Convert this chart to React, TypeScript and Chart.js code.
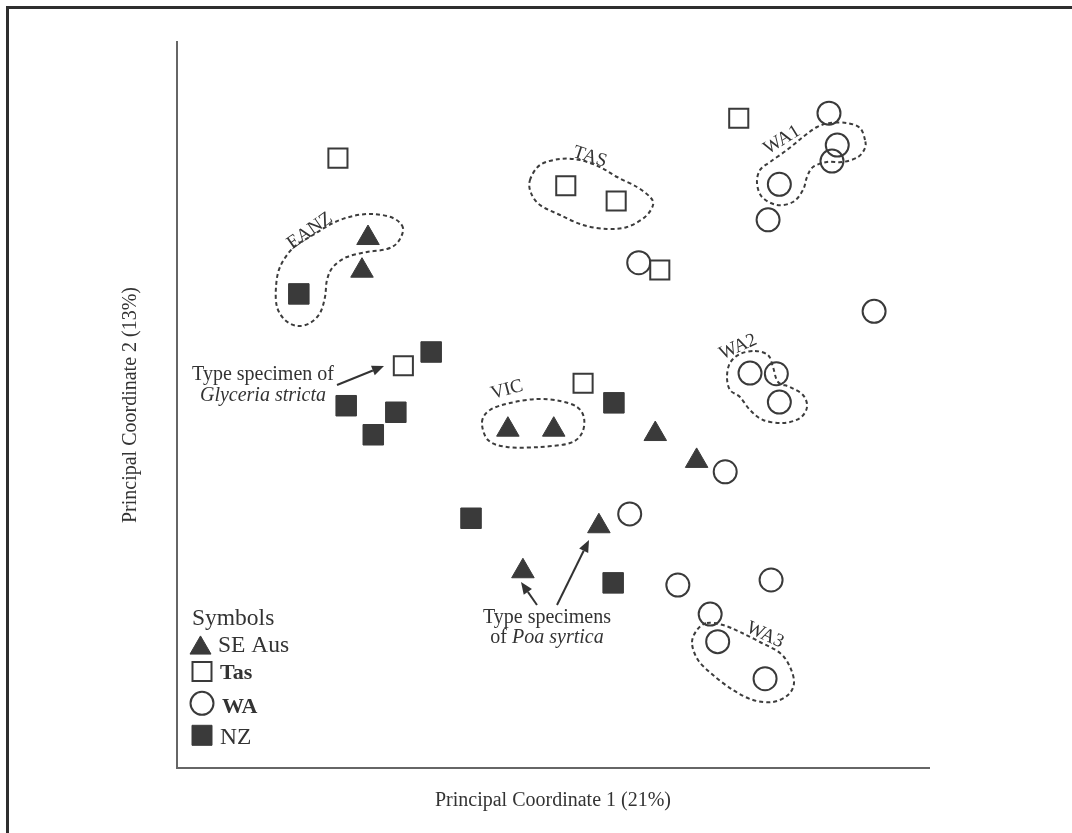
import React, { useEffect, useRef } from "react";
import { Chart, registerables } from "chart.js";

Chart.register(...registerables);

// ---------------- data: PCoA scores (arbitrary units) ----------------
const seriesNames = ["SE Aus", "Tas", "WA", "NZ"];

const seAusX = [-0.246, -0.254, -0.060, 0.001, 0.136, 0.191, 0.061, -0.040];
const seAusY = [0.230, 0.185, -0.034, -0.034, -0.040, -0.077, -0.167, -0.229];

const tasX = [-0.286, 0.017, 0.084, 0.142, 0.247, -0.199, 0.040];
const tasY = [0.340, 0.302, 0.281, 0.186, 0.395, 0.054, 0.030];

const waX = [0.367, 0.378, 0.371, 0.301, 0.286, 0.114, 0.427, 0.262, 0.297, 0.301, 0.229, 0.102, 0.166, 0.290, 0.209, 0.219, 0.282];
const waY = [0.402, 0.358, 0.336, 0.304, 0.255, 0.196, 0.129, 0.044, 0.043, 0.004, -0.092, -0.150, -0.248, -0.241, -0.288, -0.326, -0.377];

const nzX = [-0.338, -0.162, -0.275, -0.209, -0.239, 0.081, -0.109, 0.080];
const nzY = [0.153, 0.073, -0.001, -0.010, -0.041, 0.003, -0.156, -0.245];

const xTitle = "Principal Coordinate 1 (21%)";
const yTitle = "Principal Coordinate 2 (13%)";
const legendTitle = "Symbols";

// ---------------- annotation geometry (converted into data space) ----------------
const toData = (px: number, py: number): [number, number] => [(px - 553) / 752, (405 - py) / 726];
const conv = (a: number[][]) => a.map(([p, q]) => toData(p, q));

const groups = [
  {
    name: "EANZ", angle: -35, label: toData(310, 231),
    path: conv([[403, 228], [393, 218], [373, 214], [353, 216], [333, 223], [313, 235], [293, 248], [280, 267], [276, 287], [277, 307], [285, 320], [297, 326], [310, 323], [320, 313], [325, 297], [327, 280], [333, 267], [347, 257], [367, 252], [387, 249], [398, 242]]),
  },
  {
    name: "TAS", angle: 18, label: toData(590, 157),
    path: conv([[530, 180], [540, 165], [560, 159], [580, 160], [600, 167], [617, 177], [637, 187], [650, 197], [653, 205], [645, 217], [627, 227], [607, 229], [583, 225], [560, 215], [540, 205], [531, 193]]),
  },
  {
    name: "WA1", angle: -32, label: toData(782, 140),
    path: conv([[865, 140], [860, 128], [847, 123], [830, 123], [817, 127], [803, 137], [787, 150], [770, 162], [760, 170], [757, 183], [762, 197], [777, 205], [793, 202], [803, 190], [807, 177], [813, 167], [827, 162], [843, 162], [858, 157], [865, 148]]),
  },
  {
    name: "WA2", angle: -24, label: toData(738, 347),
    path: conv([[755, 351], [768, 355], [773, 367], [778, 382], [790, 387], [803, 395], [807, 407], [800, 418], [783, 423], [763, 420], [750, 410], [740, 397], [730, 390], [727, 377], [730, 363], [740, 354]]),
  },
  {
    name: "VIC", angle: -15, label: toData(507, 390),
    path: conv([[482, 422], [490, 410], [510, 403], [537, 399], [560, 401], [577, 407], [584, 418], [582, 433], [570, 443], [540, 447], [507, 447], [488, 440]]),
  },
  {
    name: "WA3", angle: 25, label: toData(765, 635),
    path: conv([[707, 623], [723, 625], [740, 632], [760, 642], [780, 653], [790, 667], [794, 683], [788, 695], [773, 702], [753, 700], [733, 690], [713, 675], [698, 660], [692, 643], [697, 630]]),
  },
];

const arrows = [
  { from: toData(337, 385), to: toData(384, 366) },
  { from: toData(537, 605), to: toData(521, 582) },
  { from: toData(557, 605), to: toData(589, 540) },
];

type Run = { t: string; italic?: boolean };
const notes: { at: [number, number]; runs: Run[] }[] = [
  { at: toData(263, 380), runs: [{ t: "Type specimen of" }] },
  { at: toData(263, 401), runs: [{ t: "Glyceria stricta", italic: true }] },
  { at: toData(547, 623), runs: [{ t: "Type specimens" }] },
  { at: toData(547, 643), runs: [{ t: "of " }, { t: "Poa syrtica", italic: true }] },
];

const legendBold = [false, true, true, false];

// ---------------- styles ----------------
const SERIF = '"Liberation Serif", "Times New Roman", serif';
const INK = "#333333";
const MARK = "#3a3a3a";

function smoothClosed(ctx: CanvasRenderingContext2D, pts: number[][]) {
  const n = pts.length;
  ctx.beginPath();
  ctx.moveTo(pts[0][0], pts[0][1]);
  for (let i = 0; i < n; i++) {
    const p0 = pts[(i - 1 + n) % n], p1 = pts[i], p2 = pts[(i + 1) % n], p3 = pts[(i + 2) % n];
    ctx.bezierCurveTo(
      p1[0] + (p2[0] - p0[0]) / 6, p1[1] + (p2[1] - p0[1]) / 6,
      p2[0] - (p3[0] - p1[0]) / 6, p2[1] - (p3[1] - p1[1]) / 6,
      p2[0], p2[1]
    );
  }
  ctx.closePath();
}

function drawArrow(ctx: CanvasRenderingContext2D, x1: number, y1: number, x2: number, y2: number) {
  const a = Math.atan2(y2 - y1, x2 - x1);
  const len = 12, hw = 5;
  const bx = x2 - len * Math.cos(a), by = y2 - len * Math.sin(a);
  ctx.beginPath();
  ctx.moveTo(x1, y1);
  ctx.lineTo(bx, by);
  ctx.stroke();
  ctx.beginPath();
  ctx.moveTo(x2, y2);
  ctx.lineTo(bx + hw * Math.sin(a), by - hw * Math.cos(a));
  ctx.lineTo(bx - hw * Math.sin(a), by + hw * Math.cos(a));
  ctx.closePath();
  ctx.fill();
}

function drawMarker(ctx: CanvasRenderingContext2D, style: string, cx: number, cy: number, fill: string, stroke: string, bw: number) {
  ctx.save();
  ctx.fillStyle = fill;
  ctx.strokeStyle = stroke;
  ctx.lineWidth = bw;
  ctx.beginPath();
  if (style === "triangle") {
    const s = 21, h = s * 0.866;
    ctx.moveTo(cx, cy - h / 2);
    ctx.lineTo(cx + s / 2, cy + h / 2);
    ctx.lineTo(cx - s / 2, cy + h / 2);
    ctx.closePath();
  } else if (style === "circle") {
    ctx.arc(cx, cy, 11.5, 0, Math.PI * 2);
  } else {
    const s = bw >= 2 ? 19 : 20;
    ctx.rect(cx - s / 2, cy - s / 2, s, s);
  }
  ctx.fill();
  if (bw > 0) ctx.stroke();
  ctx.restore();
}

const annotationPlugin = {
  id: "pcoaAnnotations",
  afterDatasetsDraw(chart: any) {
    const { ctx, scales, chartArea } = chart;
    const xs = scales.x, ys = scales.y;
    const P = (d: [number, number]) => [xs.getPixelForValue(d[0]), ys.getPixelForValue(d[1])];
    ctx.save();

    // dashed group outlines
    ctx.strokeStyle = "#3c3c3c";
    ctx.lineWidth = 2;
    ctx.setLineDash([4, 3]);
    for (const g of groups) {
      smoothClosed(ctx, g.path.map(P));
      ctx.stroke();
    }
    ctx.setLineDash([]);

    // group labels
    ctx.fillStyle = INK;
    ctx.font = `19px ${SERIF}`;
    ctx.textAlign = "center";
    ctx.textBaseline = "middle";
    for (const g of groups) {
      const [lx, ly] = P(g.label as [number, number]);
      ctx.save();
      ctx.translate(lx, ly);
      ctx.rotate((g.angle * Math.PI) / 180);
      ctx.fillText(g.name, 0, 0);
      ctx.restore();
    }

    // arrows
    ctx.strokeStyle = INK;
    ctx.fillStyle = INK;
    ctx.lineWidth = 2;
    for (const a of arrows) {
      const [x1, y1] = P(a.from as [number, number]);
      const [x2, y2] = P(a.to as [number, number]);
      drawArrow(ctx, x1, y1, x2, y2);
    }

    // notes
    ctx.textAlign = "left";
    ctx.textBaseline = "alphabetic";
    for (const n of notes) {
      const [cx, by] = P(n.at);
      const fonts = n.runs.map((r) => `${r.italic ? "italic " : ""}20px ${SERIF}`);
      const widths = n.runs.map((r, i) => { ctx.font = fonts[i]; return ctx.measureText(r.t).width; });
      let x = cx - widths.reduce((s, w) => s + w, 0) / 2;
      n.runs.forEach((r, i) => { ctx.font = fonts[i]; ctx.fillText(r.t, x, by); x += widths[i]; });
    }

    // legend (inside the plot, lower-left)
    const L = chartArea.left, B = chartArea.bottom;
    ctx.fillStyle = INK;
    ctx.font = `23.5px ${SERIF}`;
    ctx.fillText(legendTitle, L + 15, B - 143);
    const rowsY = [B - 123, B - 96.5, B - 64.7, B - 32.7];
    const baseY = [B - 116, B - 89, B - 55, B - 24];
    const textX = [L + 41, L + 43, L + 45, L + 43];
    chart.data.datasets.forEach((ds: any, i: number) => {
      drawMarker(ctx, ds.pointStyle, L + 25 + (i === 0 ? -1.5 : 0), rowsY[i], ds.backgroundColor, ds.borderColor, ds.borderWidth);
      ctx.fillStyle = INK;
      ctx.font = `${legendBold[i] ? "bold 22px" : "23.5px"} ${SERIF}`;
      ctx.fillText(ds.label, textX[i], baseY[i]);
    });

    ctx.restore();
  },
};

const pts = (xa: number[], ya: number[]) => xa.map((x, i) => ({ x, y: ya[i] }));

export default function App() {
  const ref = useRef<HTMLCanvasElement | null>(null);

  useEffect(() => {
    if (!ref.current) return;
    const chart = new Chart(ref.current, {
      type: "scatter",
      data: {
        datasets: [
          { label: seriesNames[0], data: pts(seAusX, seAusY), pointStyle: "triangle", pointRadius: 13, backgroundColor: MARK, borderColor: MARK, borderWidth: 1, order: 0, clip: false },
          { label: seriesNames[1], data: pts(tasX, tasY), pointStyle: "rect", pointRadius: 13.5, backgroundColor: "#ffffff", borderColor: MARK, borderWidth: 2, order: 0, clip: false },
          { label: seriesNames[2], data: pts(waX, waY), pointStyle: "circle", pointRadius: 11.5, backgroundColor: "rgba(255,255,255,0)", borderColor: MARK, borderWidth: 2, order: 1, clip: false },
          { label: seriesNames[3], data: pts(nzX, nzY), pointStyle: "rect", pointRadius: 14.5, backgroundColor: MARK, borderColor: MARK, borderWidth: 1, order: 0, clip: false },
        ] as any,
      },
      options: {
        animation: false,
        responsive: false,
        devicePixelRatio: 1,
        events: [],
        layout: { padding: { left: 115, top: 42, right: 143, bottom: 16 } },
        plugins: { legend: { display: false }, tooltip: { enabled: false }, title: { display: false } },
        scales: {
          x: {
            type: "linear", min: -0.5, max: 0.5,
            ticks: { display: false },
            grid: { display: false, drawTicks: false },
            border: { display: true, color: "#666666", width: 2 },
            title: { display: true, text: xTitle, color: INK, font: { family: SERIF, size: 20 }, padding: { top: 21, bottom: 4 } },
          },
          y: {
            type: "linear", min: -0.5, max: 0.5,
            ticks: { display: false },
            grid: { display: false, drawTicks: false },
            border: { display: true, color: "#666666", width: 2 },
            title: { display: true, text: yTitle, color: INK, font: { family: SERIF, size: 20 }, padding: { top: 4, bottom: 34 } },
          },
        },
      } as any,
      plugins: [annotationPlugin],
    });
    return () => chart.destroy();
  }, []);

  return (
    <div style={{ position: "fixed", left: 0, top: 0, width: 1072, height: 833, background: "#ffffff", overflow: "hidden" }}>
      <div style={{ position: "absolute", left: 6, top: 6, width: 1072, height: 833, borderTop: "3px solid #2e2e2e", borderLeft: "3px solid #2e2e2e", pointerEvents: "none" }} />
      <canvas ref={ref} width={1072} height={833} style={{ position: "absolute", left: 0, top: 0, width: 1072, height: 833 }} />
    </div>
  );
}
